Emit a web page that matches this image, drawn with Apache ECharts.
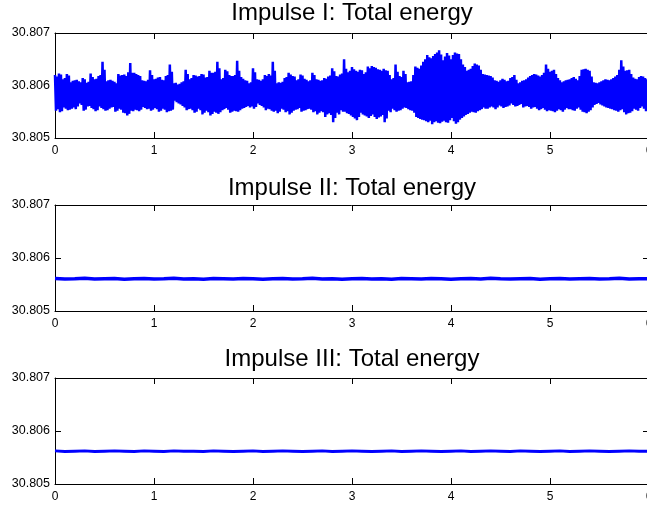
<!DOCTYPE html>
<html>
<head>
<meta charset="utf-8">
<script src="https://cdn.jsdelivr.net/npm/echarts@6/dist/echarts.min.js"></script>
<style>
html,body{margin:0;padding:0;background:#fff;overflow:hidden;}
#c{width:647px;height:506px;}
</style>
</head>
<body>
<div id="c"></div>
<script>
// Titles
const titles = ["Impulse I: Total energy", "Impulse II: Total energy", "Impulse III: Total energy"];
// Axis ranges / ticks
const xMin = 0, xMax = 6, xStep = 1;
const yMin = 30.805, yMax = 30.807, yStep = 0.001;
// sample spacing (time units) for each series
const dt1 = 0.01;
const dt2 = 0.1;
const dt3 = 0.1;
// Impulse I total energy samples
const energy1 = [
30.80620,30.80552,30.80617,30.80555,30.80623,30.80549,30.80621,30.80551,30.80612,30.80558,30.80614,30.80556,30.80622,30.80553,30.80619,30.80554,30.80606,30.80556,30.80609,30.80558,
30.80610,30.80555,30.80611,30.80560,30.80608,30.80566,30.80606,30.80563,30.80614,30.80552,30.80612,30.80554,30.80605,30.80560,30.80607,30.80561,30.80623,30.80557,30.80616,30.80555,
30.80612,30.80551,30.80613,30.80553,30.80618,30.80560,30.80620,30.80557,30.80645,30.80555,30.80630,30.80552,30.80608,30.80553,30.80610,30.80556,30.80611,30.80558,30.80609,30.80559,
30.80607,30.80550,30.80604,30.80552,30.80622,30.80556,30.80619,30.80554,30.80620,30.80548,30.80621,30.80547,30.80618,30.80543,30.80625,30.80546,30.80643,30.80552,30.80624,30.80551,
30.80624,30.80554,30.80622,30.80553,30.80620,30.80551,30.80618,30.80554,30.80610,30.80559,30.80609,30.80557,30.80608,30.80555,30.80611,30.80556,30.80629,30.80552,30.80620,30.80554,
30.80612,30.80557,30.80613,30.80555,30.80615,30.80550,30.80616,30.80552,30.80611,30.80556,30.80610,30.80554,30.80618,30.80549,30.80620,30.80551,30.80640,30.80552,30.80626,30.80554,
30.80604,30.80571,30.80605,30.80568,30.80602,30.80566,30.80603,30.80564,30.80606,30.80561,30.80608,30.80558,30.80630,30.80553,30.80622,30.80555,30.80612,30.80556,30.80614,30.80553,
30.80620,30.80548,30.80619,30.80550,30.80617,30.80556,30.80618,30.80553,30.80622,30.80545,30.80621,30.80548,30.80615,30.80552,30.80616,30.80549,30.80628,30.80543,30.80624,30.80546,
30.80624,30.80550,30.80626,30.80548,30.80645,30.80546,30.80633,30.80549,30.80612,30.80553,30.80614,30.80555,30.80630,30.80557,30.80627,30.80554,30.80620,30.80548,30.80618,30.80550,
30.80618,30.80552,30.80620,30.80551,30.80647,30.80550,30.80628,30.80553,30.80616,30.80556,30.80613,30.80557,30.80610,30.80559,30.80609,30.80561,30.80604,30.80558,30.80606,30.80560,
30.80633,30.80556,30.80625,30.80559,30.80612,30.80566,30.80611,30.80563,30.80609,30.80561,30.80612,30.80558,30.80620,30.80553,30.80618,30.80556,30.80622,30.80555,30.80619,30.80552,
30.80645,30.80550,30.80628,30.80552,30.80604,30.80547,30.80606,30.80550,30.80605,30.80556,30.80607,30.80554,30.80614,30.80549,30.80616,30.80551,30.80624,30.80545,30.80621,30.80548,
30.80618,30.80552,30.80617,30.80554,30.80610,30.80555,30.80612,30.80557,30.80621,30.80550,30.80619,30.80552,30.80613,30.80553,30.80611,30.80555,30.80608,30.80556,30.80610,30.80554,
30.80624,30.80549,30.80620,30.80551,30.80612,30.80545,30.80611,30.80548,30.80609,30.80551,30.80610,30.80549,30.80614,30.80540,30.80613,30.80545,30.80617,30.80547,30.80619,30.80544,
30.80633,30.80530,30.80627,30.80538,30.80618,30.80548,30.80617,30.80545,30.80621,30.80553,30.80623,30.80550,30.80650,30.80550,30.80632,30.80547,30.80625,30.80546,30.80628,30.80543,
30.80635,30.80540,30.80631,30.80537,30.80628,30.80534,30.80626,30.80540,30.80630,30.80548,30.80629,30.80545,30.80622,30.80543,30.80625,30.80541,30.80636,30.80538,30.80633,30.80542,
30.80637,30.80545,30.80635,30.80540,30.80634,30.80536,30.80631,30.80539,30.80630,30.80541,30.80628,30.80544,30.80632,30.80530,30.80629,30.80537,30.80628,30.80552,30.80620,30.80549,
30.80612,30.80556,30.80614,30.80553,30.80640,30.80550,30.80626,30.80552,30.80618,30.80553,30.80616,30.80556,30.80628,30.80558,30.80622,30.80557,30.80606,30.80555,30.80607,30.80553,
30.80608,30.80552,30.80620,30.80548,30.80636,30.80540,30.80634,30.80538,30.80632,30.80536,30.80638,30.80535,30.80645,30.80534,30.80650,30.80532,30.80658,30.80530,30.80654,30.80533,
30.80652,30.80526,30.80656,30.80530,30.80660,30.80532,30.80663,30.80529,30.80667,30.80528,30.80659,30.80531,30.80648,30.80533,30.80655,30.80530,30.80662,30.80529,30.80657,30.80534,
30.80650,30.80538,30.80658,30.80532,30.80663,30.80527,30.80661,30.80530,30.80660,30.80535,30.80650,30.80538,30.80640,30.80541,30.80635,30.80544,30.80628,30.80546,30.80630,30.80548,
30.80632,30.80550,30.80637,30.80549,30.80642,30.80548,30.80640,30.80551,30.80638,30.80553,30.80630,30.80555,30.80622,30.80558,30.80621,30.80556,30.80620,30.80556,30.80619,30.80558,
30.80618,30.80560,30.80615,30.80558,30.80610,30.80555,30.80609,30.80558,30.80607,30.80562,30.80610,30.80560,30.80613,30.80557,30.80611,30.80559,30.80608,30.80560,30.80609,30.80562,
30.80614,30.80566,30.80616,30.80563,30.80620,30.80560,30.80611,30.80561,30.80604,30.80563,30.80606,30.80565,30.80609,30.80558,30.80610,30.80560,30.80612,30.80561,30.80615,30.80559,
30.80618,30.80556,30.80620,30.80558,30.80622,30.80559,30.80621,30.80556,30.80619,30.80553,30.80617,30.80555,30.80620,30.80557,30.80624,30.80554,30.80640,30.80551,30.80632,30.80553,
30.80626,30.80552,30.80628,30.80551,30.80630,30.80549,30.80622,30.80552,30.80614,30.80555,30.80610,30.80553,30.80606,30.80550,30.80608,30.80554,30.80610,30.80557,30.80611,30.80555,
30.80612,30.80555,30.80614,30.80553,30.80616,30.80552,30.80613,30.80556,30.80610,30.80558,30.80618,30.80554,30.80630,30.80550,30.80631,30.80549,30.80632,30.80547,30.80630,30.80550,
30.80628,30.80553,30.80617,30.80558,30.80606,30.80563,30.80605,30.80565,30.80604,30.80567,30.80606,30.80564,30.80608,30.80562,30.80610,30.80560,30.80612,30.80558,30.80611,30.80557,
30.80610,30.80556,30.80612,30.80555,30.80614,30.80553,30.80617,30.80552,30.80620,30.80550,30.80630,30.80553,30.80648,30.80555,30.80636,30.80549,30.80628,30.80545,30.80629,30.80547,
30.80630,30.80548,30.80622,30.80551,30.80615,30.80556,30.80613,30.80554,30.80612,30.80552,30.80616,30.80557,30.80618,30.80560,30.80617,30.80556,30.80614,30.80551,30.80612,30.80553,
30.80610
];
// Impulse II total energy samples
const energy2 = [
30.805615,30.805605,30.805610,30.805620,30.805605,30.805610,30.805615,30.805600,30.805610,30.805615,
30.805605,30.805610,30.805620,30.805605,30.805610,30.805600,30.805615,30.805610,30.805605,30.805615,
30.805610,30.805600,30.805610,30.805615,30.805605,30.805610,30.805620,30.805605,30.805610,30.805600,
30.805610,30.805615,30.805605,30.805610,30.805600,30.805615,30.805610,30.805605,30.805615,30.805610,
30.805600,30.805610,30.805615,30.805605,30.805620,30.805610,30.805605,30.805610,30.805615,30.805600,
30.805610,30.805615,30.805605,30.805610,30.805615,30.805605,30.805610,30.805620,30.805605,30.805610,
30.805610
];
// Impulse III total energy samples
const energy3 = [
30.805625,30.805615,30.805620,30.805625,30.805615,30.805620,30.805625,30.805620,30.805615,30.805625,
30.805620,30.805615,30.805625,30.805620,30.805620,30.805615,30.805625,30.805620,30.805615,30.805620,
30.805625,30.805615,30.805620,30.805625,30.805620,30.805615,30.805620,30.805625,30.805615,30.805620,
30.805625,30.805620,30.805615,30.805620,30.805625,30.805615,30.805620,30.805625,30.805620,30.805615,
30.805620,30.805625,30.805615,30.805620,30.805625,30.805620,30.805615,30.805625,30.805620,30.805615,
30.805620,30.805625,30.805615,30.805620,30.805625,30.805620,30.805615,30.805620,30.805625,30.805620,
30.805620
];

function pairs(vals, dt){ return vals.map((v,i)=>[i*dt, v]); }

const grids = [
  {left:55, top:33, width:594, height:105, containLabel:false, outerBoundsMode:'none'},
  {left:55, top:205, width:594, height:106, containLabel:false, outerBoundsMode:'none'},
  {left:55, top:378, width:594, height:106, containLabel:false, outerBoundsMode:'none'}
];
const titleTops = [1, 176, 347];
const FONT = 'Arial, "Liberation Sans", Helvetica, sans-serif';
const axisLine = {show:true, onZero:false, lineStyle:{color:'#000', width:1}};
const tick = {show:true, inside:true, length:6, lineStyle:{color:'#000', width:1}};

const xAxis = [], yAxis = [], series = [], title = [];
const dataSets = [pairs(energy1, dt1), pairs(energy2, dt2), pairs(energy3, dt3)];
const widths = [2.5, 3.5, 3];
grids.forEach((g, k) => {
  title.push({text:titles[k], left:352, top:titleTops[k], textAlign:'center', padding:0,
    textStyle:{fontFamily:FONT, fontSize:24, fontWeight:'normal', color:'#000'}});
  xAxis.push({type:'value', gridIndex:k, position:'bottom', min:xMin, max:xMax, interval:xStep,
    axisLine, axisTick:tick, splitLine:{show:false},
    axisLabel:{color:'#000', fontFamily:FONT, fontSize:12, margin:7}});
  xAxis.push({type:'value', gridIndex:k, position:'top', min:xMin, max:xMax, interval:xStep,
    axisLine, axisTick:tick, splitLine:{show:false}, axisLabel:{show:false}});
  yAxis.push({type:'value', gridIndex:k, position:'left', min:yMin, max:yMax, interval:yStep,
    axisLine, axisTick:tick, splitLine:{show:false},
    axisLabel:{color:'#000', fontFamily:FONT, fontSize:12.5, margin:5, formatter:v=>v.toFixed(3)}});
  yAxis.push({type:'value', gridIndex:k, position:'right', min:yMin, max:yMax, interval:yStep,
    axisLine, axisTick:tick, splitLine:{show:false}, axisLabel:{show:false}});
  series.push({type:'line', xAxisIndex:2*k, yAxisIndex:2*k, data:dataSets[k], showSymbol:false,
    symbol:'none', sampling:null, lineStyle:{color:'#0000ff', width:widths[k]}, animation:false});
});

const chart = echarts.init(document.getElementById('c'), null, {renderer:'canvas'});
chart.setOption({animation:false, backgroundColor:'#fff', title, grid:grids, xAxis, yAxis, series});
</script>
</body>
</html>
